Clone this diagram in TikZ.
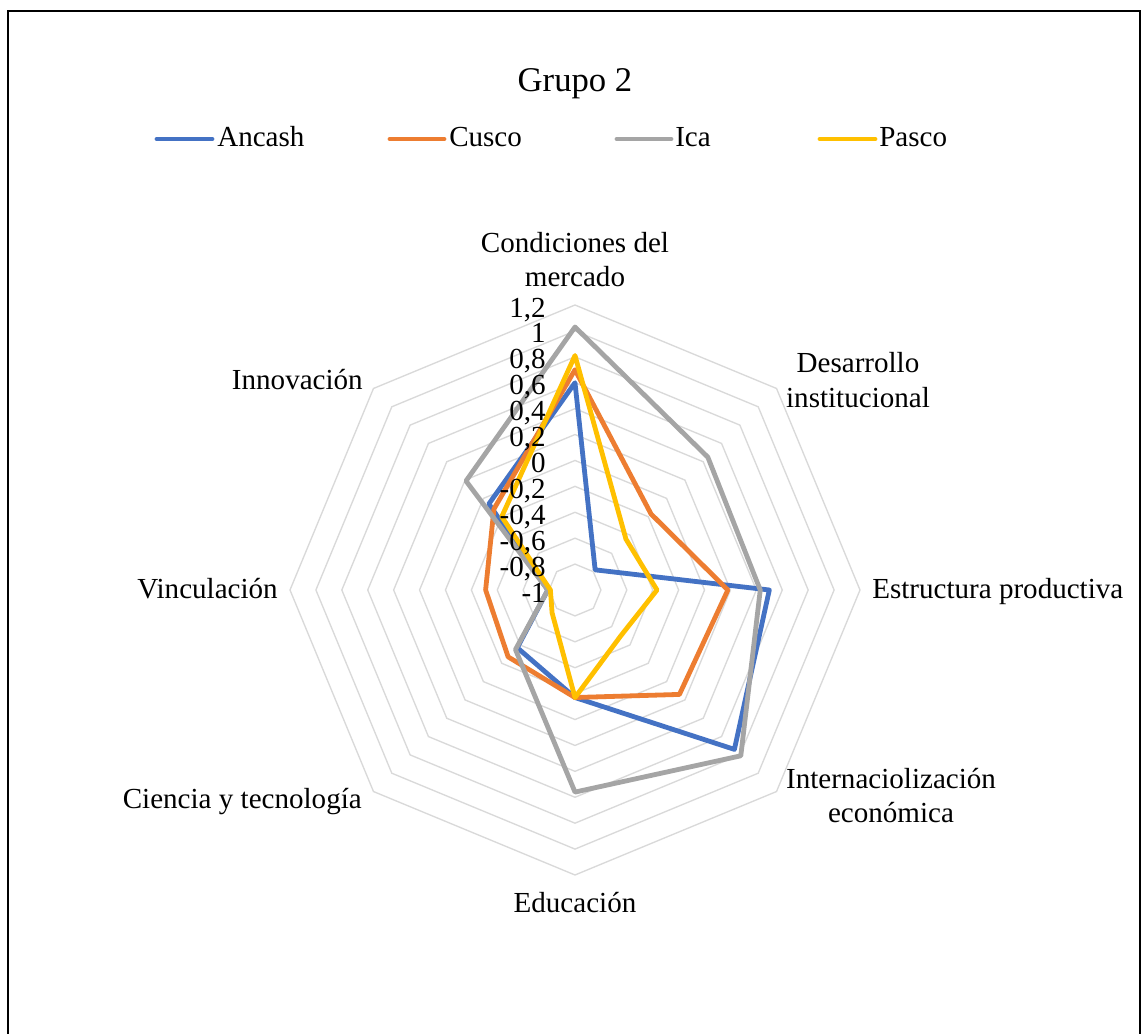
\documentclass[tikz,border=0pt]{standalone}
\usepackage{fontspec}
\setmainfont{Liberation Serif}
\definecolor{ancash}{HTML}{4472C4}
\definecolor{cusco}{HTML}{ED7D31}
\definecolor{ica}{HTML}{A5A5A5}
\definecolor{pasco}{HTML}{FFC000}
\definecolor{ringgray}{HTML}{D9D9D9}
\newcommand\unitr{129.545}
\begin{document}
\begin{tikzpicture}[x=0.75pt,y=-0.75pt,
  lbl/.style={font=\fontsize{21.8}{26}\selectfont, inner sep=0pt, text=black},
  titlelbl/.style={font=\fontsize{26}{31}\selectfont, inner sep=0pt, text=black},
  ring/.style={draw=ringgray, line width=1pt},
  series/.style={line width=3.6pt, line join=round},
  legline/.style={line width=3.6pt, line cap=round},
  frame/.style={draw=black, line width=1.1pt}]
\clip (0,0) rectangle (1143,1034);
\fill[white] (0,0) rectangle (1143,1034);
\draw[frame] (8,11) rectangle (1140,1060);

% title
\node[titlelbl, anchor=base] (title) at (575,92) {Grupo 2};

% legend
\coordinate (la1) at (157,139); \coordinate (la2) at (212,139);
\draw[legline, ancash] (la1) -- (la2);
\node[lbl, anchor=base west] (lega) at (217,147) {Ancash};
\coordinate (lc1) at (390,139); \coordinate (lc2) at (444,139);
\draw[legline, cusco] (lc1) -- (lc2);
\node[lbl, anchor=base west] (legc) at (449,147) {Cusco};
\coordinate (li1) at (617,139); \coordinate (li2) at (671,139);
\draw[legline, ica] (li1) -- (li2);
\node[lbl, anchor=base west] (legi) at (675,147) {Ica};
\coordinate (lp1) at (820,139); \coordinate (lp2) at (875,139);
\draw[legline, pasco] (lp1) -- (lp2);
\node[lbl, anchor=base west] (legp) at (879,147) {Pasco};

% radar
\begin{scope}[shift={(575,590)}, yscale=-1]
  \foreach \k in {1,...,11} {
    \draw[ring] (90:{\k*25.909}) -- (45:{\k*25.909}) -- (0:{\k*25.909}) -- (-45:{\k*25.909})
      -- (-90:{\k*25.909}) -- (-135:{\k*25.909}) -- (180:{\k*25.909}) -- (135:{\k*25.909}) -- cycle;
  }
  % Ancash
  \draw[series, ancash] (90:{1.60*\unitr}) -- (45:{0.22*\unitr}) -- (0:{1.50*\unitr}) -- (-45:{1.74*\unitr})
    -- (-90:{0.83*\unitr}) -- (-135:{0.63*\unitr}) -- (180:{0.21*\unitr}) -- (135:{0.94*\unitr}) -- cycle;
  % Cusco
  \draw[series, cusco] (90:{1.70*\unitr}) -- (45:{0.83*\unitr}) -- (0:{1.18*\unitr}) -- (-45:{1.14*\unitr})
    -- (-90:{0.83*\unitr}) -- (-135:{0.73*\unitr}) -- (180:{0.69*\unitr}) -- (135:{0.885*\unitr}) -- cycle;
  % Ica
  \draw[series, ica] (90:{2.03*\unitr}) -- (45:{1.45*\unitr}) -- (0:{1.43*\unitr}) -- (-45:{1.81*\unitr})
    -- (-90:{1.56*\unitr}) -- (-135:{0.65*\unitr}) -- (180:{0.21*\unitr}) -- (135:{1.19*\unitr}) -- cycle;
  % Pasco
  \draw[series, pasco] (90:{1.81*\unitr}) -- (45:{0.556*\unitr}) -- (0:{0.633*\unitr}) -- (-45:{0.50*\unitr})
    -- (-90:{0.83*\unitr}) -- (-135:{0.25*\unitr}) -- (180:{0.19*\unitr}) -- (135:{0.80*\unitr}) -- cycle;
\end{scope}

% tick labels
\foreach \k/\t in {0/{-1},1/{-0,8},2/{-0,6},3/{-0,4},4/{-0,2},5/{0},6/{0,2},7/{0,4},8/{0,6},9/{0,8},10/{1},11/{1,2}} {
  \node[lbl, anchor=base east] (tick\k) at (546,{602-\k*25.909}) {\t};
}

% axis labels
\node[lbl, anchor=base] (cond1) at (575,253) {Condiciones del};
\node[lbl, anchor=base] (cond2) at (575,287) {mercado};
\node[lbl, anchor=base] (des1) at (858,373) {Desarrollo};
\node[lbl, anchor=base] (des2) at (858,407) {institucional};
\node[lbl, anchor=base west] (estr) at (872,598) {Estructura productiva};
\node[lbl, anchor=base] (int1) at (891,788) {Internaciolización};
\node[lbl, anchor=base] (int2) at (891,822) {económica};
\node[lbl, anchor=base] (edu) at (575,912) {Educación};
\node[lbl, anchor=base east] (cien) at (362,808) {Ciencia y tecnología};
\node[lbl, anchor=base east] (vinc) at (278,598) {Vinculación};
\node[lbl, anchor=base east] (inno) at (363,390) {Innovación};
\end{tikzpicture}
\end{document}
